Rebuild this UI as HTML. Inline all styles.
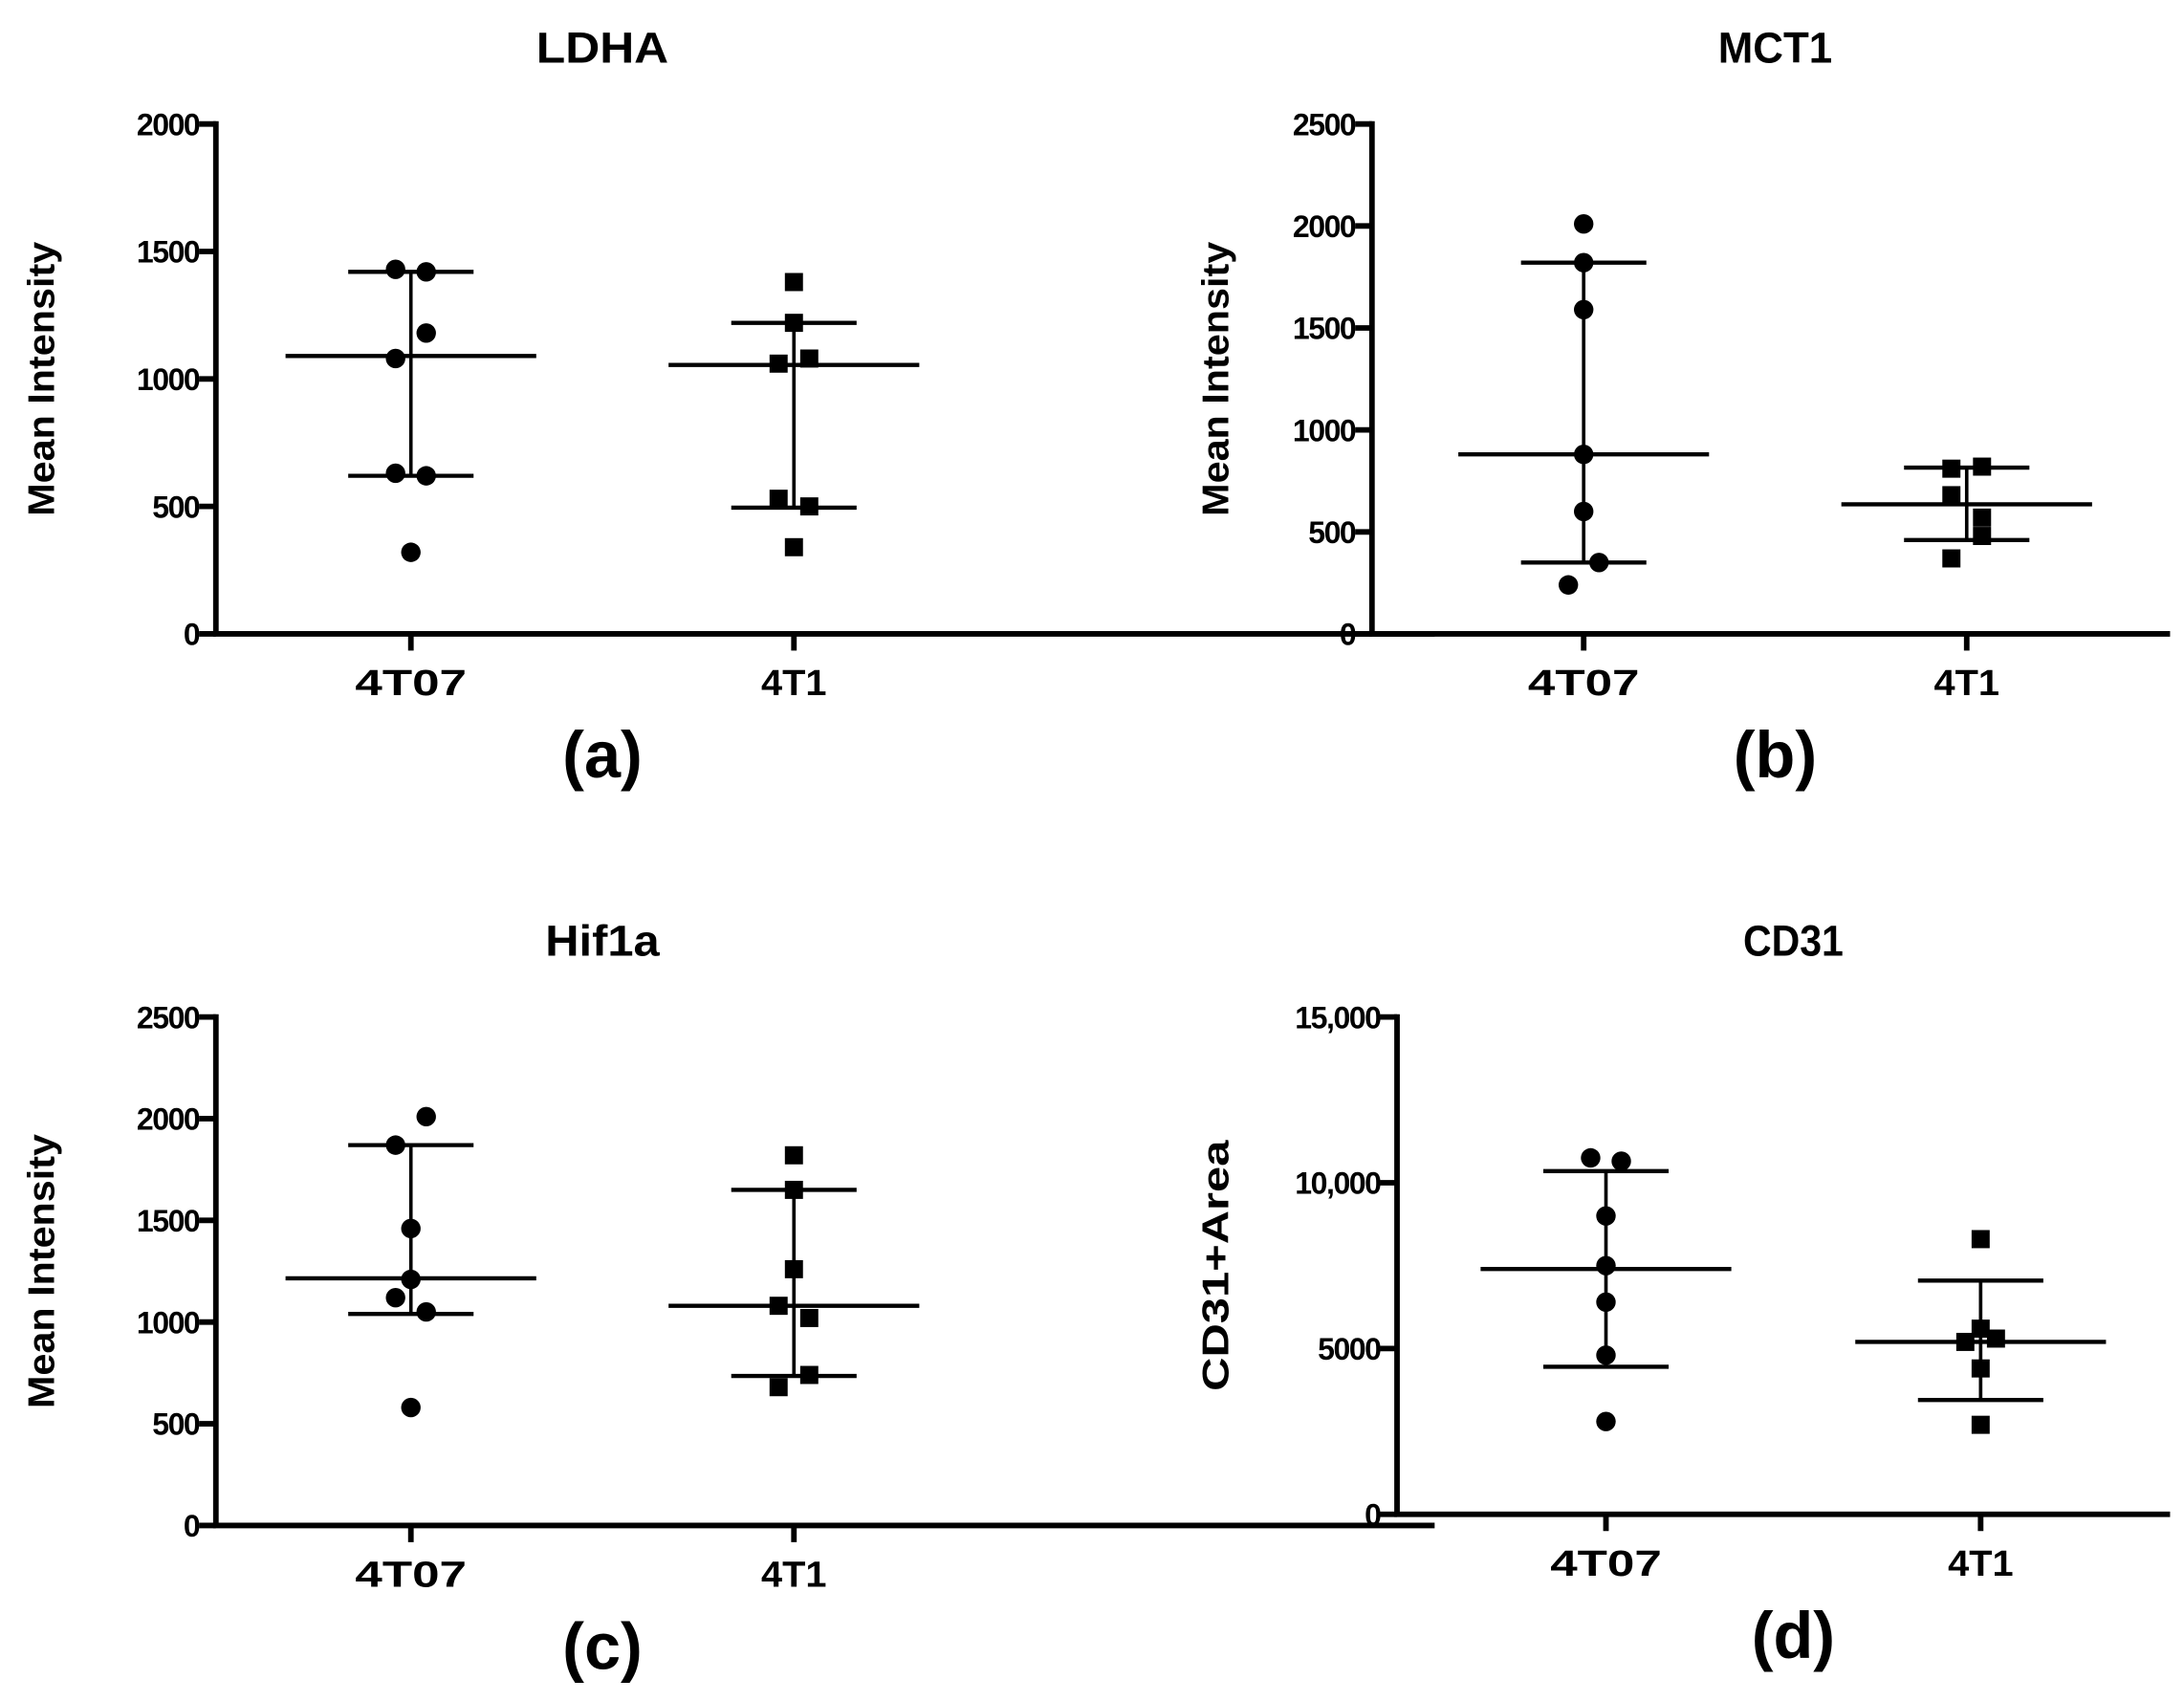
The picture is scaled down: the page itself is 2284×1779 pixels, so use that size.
<!DOCTYPE html>
<html><head><meta charset="utf-8"><style>
html,body{margin:0;padding:0;background:#fff}
svg{display:block}
text{font-family:"Liberation Sans",sans-serif;font-weight:bold;fill:#000}
</style></head><body>
<svg id="fig" xmlns="http://www.w3.org/2000/svg" width="2284" height="1779" viewBox="0 0 1568 1221" preserveAspectRatio="none"></svg>
<script>
const categories = ["4T07", "4T1"];
const titles = ["LDHA", "MCT1", "Hif1a", "CD31"];
const panelLabels = ["(a)", "(b)", "(c)", "(d)"];
const yTitles = ["Mean Intensity", "Mean Intensity", "Mean Intensity", "CD31+Area"];
const yMaxes = [2000, 2500, 2500, 15000];
const tickStep = [500, 500, 500, 5000];
const tickLabelsD = ["0", "5000", "10,000", "15,000"];
const aG1 = [1430,1420,1180,1080,630,620,320];
const aG1j = [-1,1,1,-1,-1,1,0];
const aG2 = [1380,1220,1080,1060,530,500,340];
const aG2j = [0,0,1,-1,-1,1,0];
const aStats = [[1090,1420,620],[1055,1220,495]];
const bG1 = [2010,1820,1590,880,600,350,240];
const bG1j = [0,0,0,0,0,1,-1];
const bG2 = [810,820,680,570,480,370];
const bG2j = [-1,1,-1,1,1,-1];
const bStats = [[880,1820,350],[635,815,460]];
const cG1 = [2010,1870,1460,1210,1120,1050,580];
const cG1j = [1,-1,0,0,-1,1,0];
const cG2 = [1820,1650,1260,1080,1020,740,680];
const cG2j = [0,0,0,-1,1,1,-1];
const cStats = [[1215,1870,1040],[1080,1650,735]];
const dG1 = [10750,10650,9000,7500,6400,4800,2800];
const dG1j = [-1,1,0,0,0,0,0];
const dG2 = [8300,5600,5200,5300,4400,2700];
const dG2j = [0,0,-1,1,0,0];
const dStats = [[7400,10350,4450],[5200,7050,3450]];

const panels = [
 {ax:155, top:89, bot:455, xend:1030, cx:[295,570], g:[aG1,aG2], j:[aG1j,aG2j], s:aStats, yo:125, tl:95, yl:197},
 {ax:985, top:89, bot:455, xend:1558, cx:[1137,1412], g:[bG1,bG2], j:[bG1j,bG2j], s:bStats, yo:112, tl:82, yl:197},
 {ax:155, top:730, bot:1095, xend:1030, cx:[295,570], g:[cG1,cG2], j:[cG1j,cG2j], s:cStats, yo:125, tl:82, yl:197},
 {ax:1003, top:730, bot:1087, xend:1558, cx:[1153,1422], g:[dG1,dG2], j:[dG1j,dG2j], s:dStats, yo:130, tl:72, yl:180}
];
const svg = document.getElementById('fig');
const NS = "http://www.w3.org/2000/svg";
function mk(tag, attrs, parent){const e=document.createElementNS(NS,tag);for(const k in attrs)e.setAttribute(k,attrs[k]);parent.appendChild(e);return e;}
panels.forEach((p,i)=>{
  const g = mk('g',{},svg);
  
  
  const y = v => p.bot - (v/yMaxes[i])*(p.bot-p.top);
  const midX = (p.cx[0]+p.cx[1])/2;
  let t = mk('text',{x:midX, y:p.top-44,'text-anchor':'middle','font-size':31,textLength:p.tl,lengthAdjust:'spacingAndGlyphs'},g); t.textContent=titles[i];
   
  t = mk('text',{x:midX, y:p.bot+103,'text-anchor':'middle','font-size':47},g); t.textContent=panelLabels[i];
   
  const yl=(p.top+p.bot)/2, xl=p.ax-p.yo;
  t = mk('text',{x:xl,y:yl,'text-anchor':'middle','font-size':27,textLength:p.yl,lengthAdjust:'spacingAndGlyphs',transform:`rotate(-90 ${xl} ${yl})`,'dominant-baseline':'central'},g); t.textContent=yTitles[i];
   
  let l = mk('line',{x1:p.ax,y1:p.top-2,x2:p.ax,y2:p.bot,stroke:'#000','stroke-width':4},g);
   
  l = mk('line',{x1:p.ax-2,y1:p.bot,x2:p.xend,y2:p.bot,stroke:'#000','stroke-width':4},g);
   
  for(let v=0; v<=yMaxes[i]; v+=tickStep[i]){
    const k=v/tickStep[i];
    mk('line',{x1:p.ax-12,y1:y(v),x2:p.ax,y2:y(v),stroke:'#000','stroke-width':4},g);
    t = mk('text',{x:p.ax-12,y:y(v)+8,'text-anchor':'end','font-size':22,'letter-spacing':-1},g);
    t.textContent = i===3 ? tickLabelsD[k] : String(v);
     
  }
  categories.forEach((c,ci)=>{
    const x=p.cx[ci];
    mk('line',{x1:x,y1:p.bot,x2:x,y2:p.bot+12,stroke:'#000','stroke-width':4},g);
    t = mk('text',{x:x,y:p.bot+44,'text-anchor':'middle','font-size':26,textLength:ci===0?80:47,lengthAdjust:'spacingAndGlyphs'},g); t.textContent=c;
     
    const [m,hi,lo]=p.s[ci];
    l=mk('line',{x1:x,y1:y(hi),x2:x,y2:y(lo),stroke:'#000','stroke-width':2.5},g);
     
    l=mk('line',{x1:x-90,y1:y(m),x2:x+90,y2:y(m),stroke:'#000','stroke-width':3},g);
     
    l=mk('line',{x1:x-45,y1:y(hi),x2:x+45,y2:y(hi),stroke:'#000','stroke-width':3},g);
     
    l=mk('line',{x1:x-45,y1:y(lo),x2:x+45,y2:y(lo),stroke:'#000','stroke-width':3},g);
     
    p.g[ci].forEach((v,vi)=>{
      const px=x+p.j[ci][vi]*11, py=y(v);
      let e;
      if(ci===0){ e=mk('circle',{cx:px,cy:py,r:7,fill:'#000'},g); }
      else { e=mk('rect',{x:px-6.5,y:py-6.5,width:13,height:13,fill:'#000'},g); }
      
      
    });
  });
});
</script>
</body></html>
